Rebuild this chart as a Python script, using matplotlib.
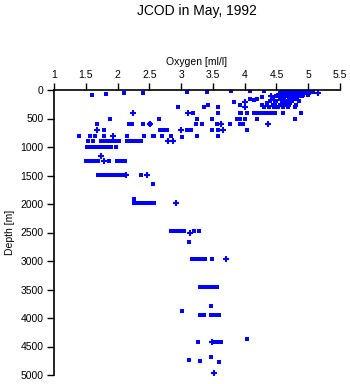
import numpy as np
import matplotlib
matplotlib.use('Agg')
import matplotlib.pyplot as plt

plt.rcParams['font.family'] = ['Liberation Sans', 'DejaVu Sans']

# Samples drawn as small squares (oxygen [ml/l], depth [m])
oxygen_sq = [
    1.60, 1.60, 1.82, 2.10, 2.40, 3.10, 3.40, 3.79, 4.08, 4.30,
    # dense surface cluster
    4.62, 4.70, 4.75, 4.80, 4.85, 4.90, 4.95, 5.00, 5.05,
    4.58, 4.66, 4.72, 4.78, 4.83, 4.88, 4.93, 4.98, 5.03, 5.08,
    4.55, 4.63, 4.70, 4.76, 4.82, 4.87, 4.92, 4.97, 5.02,
    4.52, 4.60, 4.68, 4.74, 4.80, 4.86, 4.91, 4.99,
    4.50, 4.58, 4.65, 4.72, 4.78, 4.84, 4.90,
    4.45, 4.55, 4.62, 4.70, 4.76, 4.82,
    4.40, 4.50, 4.60, 4.68, 4.75, 4.86,
    4.35, 4.48, 4.58, 4.66, 4.72,
    4.28, 4.35, 4.45, 4.55, 4.62, 4.70, 4.80,
    4.30, 4.38, 4.46, 4.52, 4.60, 4.68, 4.79,
    # upper water column
    4.08, 4.14, 4.20, 4.27, 3.84, 3.92, 3.43, 2.95, 3.36, 3.58,
    3.19, 3.58, 3.93, 3.95, 4.04, 4.14, 4.18, 4.22, 4.26, 4.30, 4.33,
    4.37, 4.42, 4.47, 4.60, 4.88,
    1.88, 2.65, 3.25, 3.49, 3.88, 3.92, 4.01, 4.20, 4.79,
    1.67, 2.18, 2.22, 2.40, 2.51, 3.24, 3.33, 3.57, 3.77, 3.92, 3.96, 3.98,
    1.78, 2.67, 2.72, 2.78, 3.10, 3.15, 3.49, 3.58, 4.03, 4.04,
    1.39, 1.56, 1.64, 1.78, 2.15, 2.42, 2.56, 2.57, 2.70, 2.84, 3.02, 3.25, 3.58,
    1.53, 1.61, 1.74, 1.78, 1.82, 1.86, 1.90, 1.94, 1.98, 2.02, 2.15, 2.21,
    2.26, 2.31, 2.37,
    1.52, 1.56, 1.60, 1.64, 1.68, 1.72, 1.77, 1.81, 1.85, 1.89, 1.97,
    1.50, 1.54, 1.58, 1.62, 1.66, 1.70, 1.86, 1.99, 2.05, 2.12,
    1.69, 1.75, 1.80, 1.85, 1.90, 1.93, 1.99, 2.04, 2.10, 2.37,
    2.56,
    2.26, 2.26, 2.32, 2.37, 2.42, 2.47, 2.52, 2.57,
    # deep water
    2.84, 2.91, 2.96, 3.00, 3.05, 3.20, 3.28, 3.13,
    3.17, 3.22, 3.27, 3.32, 3.38, 3.49,
    3.30, 3.36, 3.42, 3.48, 3.52, 3.57,
    3.47, 3.02, 3.30, 3.36, 3.47, 3.52, 3.55, 3.60,
    4.04, 3.27, 3.52, 3.57, 3.62,
    3.47, 3.13, 3.30, 3.60,
]
depth_sq = [
    80, 95, 70, 53, 53, 35, 35, 18, 18, 18,
    5, 5, 5, 5, 5, 5, 5, 5, 5,
    30, 30, 30, 30, 30, 30, 30, 30, 30, 30,
    55, 55, 55, 55, 55, 55, 55, 55, 55,
    80, 80, 80, 80, 80, 80, 80, 80,
    110, 110, 110, 110, 110, 110, 110,
    150, 150, 150, 150, 150, 150,
    185, 185, 185, 185, 185, 185,
    225, 225, 225, 225, 225,
    265, 265, 265, 265, 265, 265, 265,
    300, 300, 300, 300, 300, 300, 300,
    158, 175, 158, 123, 210, 263, 263, 298, 298, 298,
    404, 404, 404, 404, 404, 404, 404, 404, 404, 404, 404,
    404, 404, 404, 404, 404,
    509, 509, 509, 509, 509, 509, 509, 509, 509,
    596, 596, 596, 596, 596, 596, 596, 596, 596, 596, 596, 596,
    702, 702, 702, 702, 702, 702, 702, 702, 702, 702,
    807, 807, 807, 807, 807, 807, 807, 807, 807, 807, 825, 807, 807,
    895, 895, 895, 895, 895, 895, 895, 895, 895, 895, 895, 895,
    895, 895, 895,
    1000, 1000, 1000, 1000, 1000, 1000, 1000, 1000, 1000, 1000, 1000,
    1246, 1246, 1246, 1246, 1246, 1246, 1246, 1246, 1246, 1246,
    1491, 1491, 1491, 1491, 1491, 1491, 1491, 1491, 1491, 1491,
    1649,
    1912, 1982, 1982, 1982, 1982, 1982, 1982, 1982,
    2474, 2474, 2474, 2474, 2474, 2474, 2474, 2667,
    2965, 2965, 2965, 2965, 2965, 2965,
    3456, 3456, 3456, 3456, 3456, 3456,
    3789, 3877, 3947, 3947, 3947, 3947, 3947, 3947,
    4368, 4421, 4421, 4421, 4421,
    4684, 4737, 4754, 4772,
]

# Samples drawn as small crosses
oxygen_plus = [4.42, 5.15, 4.01, 4.01, 3.11, 2.25, 2.51, 3.63, 4.36,
               1.67, 3.00, 3.66, 1.93, 2.80, 2.87, 1.74, 1.78, 2.13, 2.46,
               2.92, 3.14, 3.71, 3.49, 3.52]
depth_plus = [105, 53, 210, 298, 404, 404, 596, 596, 596,
              702, 702, 702, 807, 895, 895, 1158, 1246, 1491, 1491,
              1982, 2509, 2965, 4421, 4965]

x_ticks = [1, 1.5, 2, 2.5, 3, 3.5, 4, 4.5, 5, 5.5]
y_ticks = [0, 500, 1000, 1500, 2000, 2500, 3000, 3500, 4000, 4500, 5000]

fig = plt.figure(figsize=(3.5, 3.84), dpi=100)
ax = fig.add_axes([54 / 350, 9 / 384, 286 / 350, 285 / 384])

blue = '#0000ff'
ax.scatter(oxygen_sq, depth_sq, marker='s', s=5.2, linewidths=0, color=blue,
           antialiased=False)
ax.scatter(oxygen_plus, depth_plus, marker='+', s=14, linewidths=1.5, color=blue,
           antialiased=False)

ax.set_xlim(1, 5.5)
ax.set_ylim(5000, 0)
ax.xaxis.tick_top()
ax.xaxis.set_label_position('top')
ax.set_xticks(x_ticks)
ax.set_xticklabels([f'{v:g}' for v in x_ticks])
ax.set_yticks(y_ticks)
ax.set_yticklabels([str(v) for v in y_ticks])

for side in ['right', 'bottom']:
    ax.spines[side].set_visible(False)
for side in ['left', 'top']:
    ax.spines[side].set_linewidth(1.2)

ax.tick_params(direction='out', length=5, width=1, labelsize=7.5, pad=2.5)
ax.set_xlabel('Oxygen [ml/l]', fontsize=7.5, labelpad=3)
ax.set_ylabel('Depth [m]', fontsize=7.5, labelpad=4)

fig.text(197 / 350, 1 - 11 / 384, 'JCOD in May, 1992', ha='center', va='center', fontsize=10)

fig.savefig('out.png', dpi=100)
